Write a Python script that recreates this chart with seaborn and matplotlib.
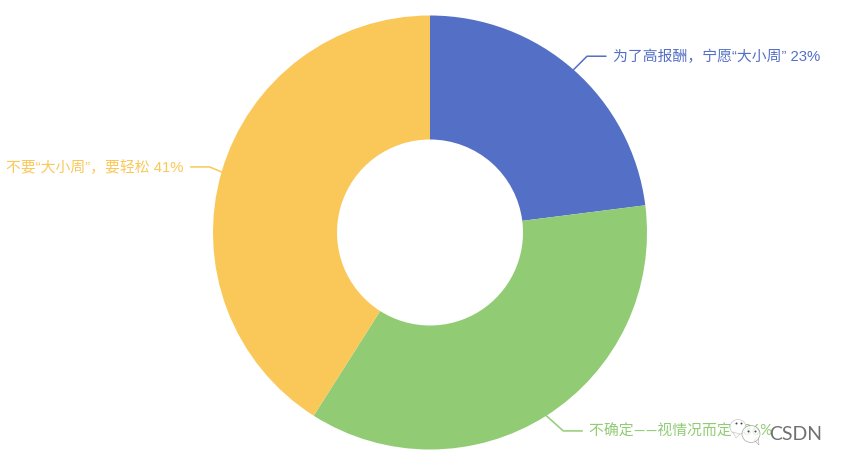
import numpy as np
import matplotlib
matplotlib.use('Agg')
import matplotlib.pyplot as plt
import seaborn as sns
from matplotlib.patches import Ellipse, Polygon

# values
labels = ['为了高报酬，宁愿“大小周”', '不确定——视情况而定', '不要“大小周”，要轻松']
values = [23, 36, 41]
colors = ['#5470c6', '#91cc75', '#fac858']
bend_dx = [13.5, 17, 12]
run_dx = [19, 19, 19]
latin_font = ['Liberation Sans', 'Lato', 'Liberation Sans']
sep = [' ', '   ', ' ']

sns.set_theme(style='white')
plt.rcParams['font.family'] = ['Liberation Sans', 'Noto Sans CJK SC', 'DejaVu Sans']

fig = plt.figure(figsize=(8.5, 4.68), dpi=100)
ax = fig.add_axes([0, 0, 1, 1])

cx, cy = 430, 232.5
r_out, r_in = 217, 93

# y axis is flipped, so pie angles run mirrored here
ax.pie(values, colors=colors, center=(cx, cy), radius=r_out, startangle=-90,
       counterclock=True, frame=False, normalize=True,
       wedgeprops=dict(width=r_out - r_in, linewidth=0))
ax.set_aspect('equal')
ax.set_xlim(0, 850)
ax.set_ylim(468, 0)
ax.axis('off')

# leader lines and labels
cum = np.cumsum([0] + values)
for i, (lab, v, c) in enumerate(zip(labels, values, colors)):
    mid = np.deg2rad((cum[i] + v / 2) * 3.6)
    x0 = cx + r_out * np.sin(mid)
    y0 = cy - r_out * np.cos(mid)
    side = 1 if np.sin(mid) > 0 else -1
    x1 = x0 + side * bend_dx[i]
    y1 = y0 - np.cos(mid) * 18
    x2 = x1 + side * run_dx[i]
    ax.plot([x0, x1, x2], [y0, y1, y1], color=c, lw=1.1, solid_joinstyle='round')
    ax.text(x2 + side * 7, y1 + 1, f'{lab}{sep[i]}{v}%', color=c, fontsize=10.7,
            family=[latin_font[i], 'Noto Sans CJK SC', 'DejaVu Sans'],
            ha='left' if side > 0 else 'right', va='center')

# watermark in the corner
ax.add_patch(Ellipse((738, 427), 16, 15, fc='white', ec='#bbbbbb', lw=0.5, alpha=0.85, zorder=5))
ax.add_patch(Polygon([[733, 432], [736, 438], [740, 434]], fc='white', ec='#bbbbbb', lw=0.4, alpha=0.85, zorder=5))
ax.add_patch(Ellipse((751, 434), 18, 17, fc='white', ec='#888888', lw=0.5, alpha=0.75, zorder=6))
ax.add_patch(Polygon([[754, 440], [759, 445], [758, 437]], fc='white', ec='#888888', lw=0.4, alpha=0.75, zorder=5))
ax.scatter([736, 741, 748, 755], [423, 423, 431, 431], s=2, color='#444444', linewidths=0, zorder=7)
ax.text(769.5, 434.5, 'CSDN', color='#707070', fontsize=14, va='center', ha='left',
        family='Lato', zorder=7)

fig.savefig('out.png', dpi=100)
